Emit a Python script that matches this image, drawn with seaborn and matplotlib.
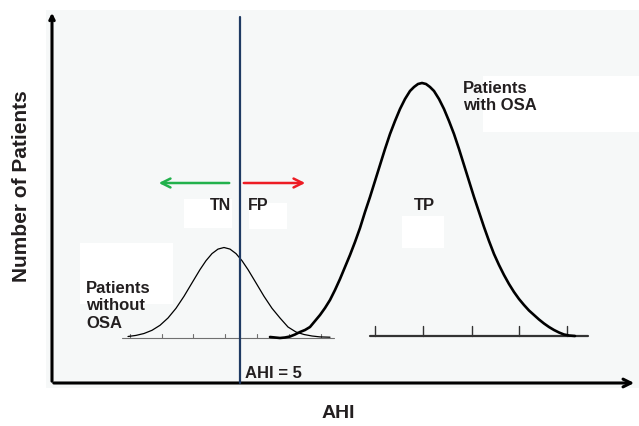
"""
Schematic: distribution of AHI in patients with and without OSA
"""

import numpy as np
import matplotlib
matplotlib.use("Agg")
import matplotlib.pyplot as plt
from matplotlib.patches import Rectangle
import seaborn as sns

sns.set_style("white")
plt.rcParams["font.family"] = ["Liberation Sans", "DejaVu Sans"]

# curve of patients without OSA (x along AHI axis, height above its ruler)
no_osa_x = [76, 84, 92, 100, 108, 116, 124, 132, 140, 148, 154, 160, 166, 172,
            178, 184, 190, 196, 204, 212, 220, 228, 236, 244, 252, 260, 268, 278]
no_osa_h = [1.0, 2.1, 4.0, 7.2, 12.2, 19.5, 29.2, 41.2, 54.6, 67.9, 76.8, 83.9, 88.4, 90.0,
            88.4, 83.9, 76.8, 67.9, 54.6, 41.2, 29.2, 19.5, 10.5, 5.5, 3.0, 1.5, 0.6, 0.3]

# curve of patients with OSA
osa_x = [218, 223, 228, 233, 238, 243, 248, 253, 258, 263, 268, 273, 278, 283, 288,
         293, 298, 303, 308, 313, 318, 323, 328, 333, 338, 343, 348, 353, 358, 362,
         366, 370, 374, 378, 382, 387, 392, 397, 402, 407, 412, 417, 422, 427, 432,
         437, 442, 447, 452, 457, 462, 467, 472, 477, 482, 487, 492, 497, 502, 507,
         512, 517, 523]
osa_h = [-1.0, -1.5, -2.0, -1.5, -0.5, 1.5, 4, 6, 9, 15, 21, 28, 36, 46, 57,
         69, 81, 94, 108, 124, 139, 155, 171, 187, 202, 215, 227, 237, 245, 249,
         252, 253, 252, 249, 245, 237, 227, 215, 202, 187, 171, 155, 139, 124, 109,
         95, 82, 71, 61, 52, 44, 37, 31, 25.5, 21, 16.5, 12.5, 9, 6, 3.5,
         1.5, 0.5, 0]

# ruler ticks under each curve
no_osa_ticks = [78, 110, 141, 173, 205, 237, 269]
osa_ticks = [323, 371, 420, 467, 515]

cutoff = 188          # AHI = 5
TXT = "#231f20"

fig = plt.figure(figsize=(6.39, 4.26), dpi=100)
W, H = 639, 426
ax = fig.add_axes([46 / W, (H - 388) / H, (639 - 46) / W, (388 - 10) / H])
ax.set_facecolor("#f6f8f8")
ax.set_xlim(-6, 587)
ax.set_ylim(-5, 373)
ax.set_xticks([])
ax.set_yticks([])
sns.despine(ax=ax, left=True, bottom=True)

# white boxes behind labels
for (x0, y0, w, h) in [(431, 251, 160, 56), (28, 79, 93, 61), (132, 155, 48, 29),
                       (197, 154, 38, 26), (350, 135, 42, 32)]:
    ax.add_patch(Rectangle((x0, y0), w, h, facecolor="white", edgecolor="none", zorder=1))

# rulers
base_small, base_big = 45.5, 47
ax.plot([70, 282], [base_small, base_small], color="#707070", lw=0.8, zorder=2)
for t in no_osa_ticks:
    ax.plot([t, t], [base_small, base_small + 3.5], color="#707070", lw=0.8, zorder=2)
ax.plot([318, 536], [base_big, base_big], color="#333333", lw=1.6, zorder=2)
for t in osa_ticks:
    ax.plot([t, t], [base_big, base_big + 10], color="#333333", lw=1.0, zorder=2)

# curves
sns.lineplot(x=no_osa_x, y=base_small + np.array(no_osa_h), ax=ax, color="black",
             lw=0.9, estimator=None, zorder=3, solid_joinstyle="round")
sns.lineplot(x=osa_x, y=base_big + np.array(osa_h), ax=ax, color="black",
             lw=1.9, estimator=None, zorder=3, solid_joinstyle="round")

# threshold line
ax.plot([cutoff, cutoff], [0, 366], color="#1f3a63", lw=1.6, zorder=4)

# TN / FP arrows
ax.annotate("", xy=(104, 200), xytext=(cutoff - 8, 200),
            arrowprops=dict(arrowstyle="->", color="#22b14c", lw=1.8, mutation_scale=16))
ax.annotate("", xy=(256, 200), xytext=(cutoff + 1, 200),
            arrowprops=dict(arrowstyle="->", color="#ed1c24", lw=1.8, mutation_scale=16))

# axes with arrows
ax.annotate("", xy=(585, 0), xytext=(-1, 0),
            arrowprops=dict(arrowstyle="->", color="black", lw=2.2, mutation_scale=14),
            annotation_clip=False)
ax.annotate("", xy=(0, 373), xytext=(0, -1),
            arrowprops=dict(arrowstyle="->", color="black", lw=2.2, mutation_scale=8),
            annotation_clip=False)

# labels
kw = dict(color=TXT, fontweight="bold", zorder=5)
ax.text(411, 302, "Patients\nwith OSA", fontsize=12, va="top", ha="left", **kw)
ax.text(34, 102, "Patients\nwithout\nOSA", fontsize=12, va="top", ha="left", **kw)
ax.text(168.5, 185, "TN", fontsize=11.5, va="top", ha="center", **kw)
ax.text(206, 185, "FP", fontsize=11.5, va="top", ha="center", **kw)
ax.text(372, 185, "TP", fontsize=12, va="top", ha="center", **kw)
ax.text(193, 5, "AHI = 5", fontsize=12, va="baseline", ha="left", **kw)

fig.text(22 / W, 1 - 186 / H, "Number of Patients", rotation=90, fontsize=15,
         ha="center", va="center", color=TXT, fontweight="bold")
fig.text(338 / W, 1 - 414 / H, "AHI", fontsize=14, ha="center", va="center",
         color=TXT, fontweight="bold")

fig.savefig("out.png", dpi=100)
